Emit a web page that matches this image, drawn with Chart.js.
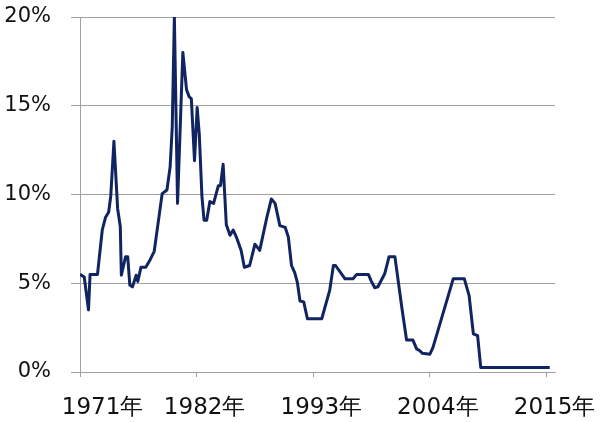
<!DOCTYPE html>
<html>
<head>
<meta charset="utf-8">
<script src="https://cdn.jsdelivr.net/npm/chart.js@4/dist/chart.umd.min.js"></script>
<style>
  html, body { margin: 0; padding: 0; background: #ffffff; }
  #wrap { width: 600px; height: 422px; position: relative; }
</style>
</head>
<body>
<div id="wrap"><canvas id="c" width="600" height="422"></canvas></div>
<script>
const years = [1971.0, 1971.4, 1971.8, 1971.95, 1972.65, 1973.1, 1973.4, 1973.7, 1973.9, 1974.2,
  1974.55, 1974.8, 1974.9, 1975.3, 1975.5, 1975.7, 1975.95, 1976.3, 1976.45, 1976.75,
  1977.2, 1977.55, 1978.0, 1978.75, 1979.2, 1979.5, 1979.7, 1979.9, 1980.2, 1980.7,
  1981.05, 1981.3, 1981.5, 1981.8, 1982.05, 1982.25, 1982.5, 1982.7, 1982.95, 1983.25,
  1983.6, 1984.05, 1984.25, 1984.5, 1984.8, 1985.15, 1985.45, 1985.75, 1986.2, 1986.5,
  1987.0, 1987.5, 1987.95, 1988.6, 1989.05, 1989.4, 1989.85, 1990.35, 1990.65, 1990.95,
  1991.25, 1991.5, 1991.75, 1992.1, 1992.45, 1993.8, 1994.55, 1994.9, 1995.1, 1996.0,
  1996.75, 1997.1, 1998.2, 1998.45, 1998.8, 1999.1, 1999.75, 2000.15, 2000.7, 2001.35,
  2001.8, 2002.4, 2002.75, 2003.05, 2003.3, 2004.0, 2004.3, 2006.2, 2007.25, 2007.7,
  2008.1, 2008.5, 2008.8, 2015.3];
const rates = [5.5, 5.35, 3.5, 5.5, 5.5, 8.0, 8.7, 9.0, 9.9, 13.0,
  9.2, 8.2, 5.45, 6.5, 6.5, 4.9, 4.8, 5.45, 5.1, 5.9,
  5.9, 6.25, 6.8, 10.05, 10.25, 11.55, 13.8, 20.0, 9.5, 18.0,
  15.9, 15.5, 15.4, 11.9, 14.9, 13.4, 9.9, 8.55, 8.55, 9.6,
  9.5, 10.5, 10.5, 11.7, 8.3, 7.7, 8.0, 7.6, 6.85, 5.9,
  6.0, 7.2, 6.85, 8.65, 9.75, 9.5, 8.25, 8.15, 7.6, 6.0,
  5.6, 5.05, 4.0, 3.95, 3.0, 3.0, 4.6, 6.0, 6.0, 5.25,
  5.25, 5.5, 5.5, 5.15, 4.75, 4.8, 5.55, 6.5, 6.5, 3.65,
  1.8, 1.8, 1.3, 1.2, 1.05, 1.0, 1.4, 5.25, 5.25, 4.3,
  2.15, 2.05, 0.25, 0.25];
const xTickYears = [1971, 1982, 1993, 2004, 2015];
const xTickLabels = ['1971年', '1982年', '1993年', '2004年', '2015年'];
const yTicks = [0, 5, 10, 15, 20];

const points = years.map((y, i) => ({ x: y, y: rates[i] }));

new Chart(document.getElementById('c'), {
  type: 'line',
  data: {
    datasets: [{
      data: points,
      borderColor: '#0f2461',
      borderWidth: 3,
      pointRadius: 0,
      tension: 0,
      borderJoinStyle: 'round',
      fill: false
    }]
  },
  options: {
    responsive: false,
    animation: false,
    devicePixelRatio: 1,
    layout: { padding: { top: 17, right: 45, left: 0, bottom: 0 } },
    plugins: { legend: { display: false }, tooltip: { enabled: false } },
    scales: {
      x: {
        type: 'linear',
        min: 1971,
        max: 2015.8,
        afterBuildTicks: (s) => { s.ticks = xTickYears.map(v => ({ value: v })); },
        afterFit: (s) => { s.height = 50; s.paddingLeft = 0; s.paddingRight = 0; },
        grid: {
          drawOnChartArea: false,
          drawTicks: true,
          tickLength: 5,
          color: '#a0a0a0'
        },
        border: { display: true, color: '#a0a0a0', width: 1 },
        ticks: {
          autoSkip: false,
          maxRotation: 0,
          padding: 17,
          labelOffset: 8,
          color: '#111111',
          font: { family: 'DejaVu Sans', size: 23 },
          callback: (v) => {
            const i = xTickYears.indexOf(v);
            const t = i >= 0 ? xTickLabels[i] : '';
            return i === 0 ? '    ' + t : t;
          }
        }
      },
      y: {
        min: 0,
        max: 20,
        afterBuildTicks: (s) => { s.ticks = yTicks.map(v => ({ value: v })); },
        afterFit: (s) => { s.width = 80; s.paddingTop = 0; s.paddingBottom = 0; },
        grid: {
          color: '#a0a0a0',
          lineWidth: 1,
          drawTicks: true,
          tickLength: 9
        },
        border: { display: true, color: '#a0a0a0', width: 1 },
        ticks: {
          padding: 20,
          color: '#111111',
          font: { family: 'DejaVu Sans', size: 21 },
          callback: (v) => v + '%'
        }
      }
    }
  }
});
</script>
</body>
</html>
